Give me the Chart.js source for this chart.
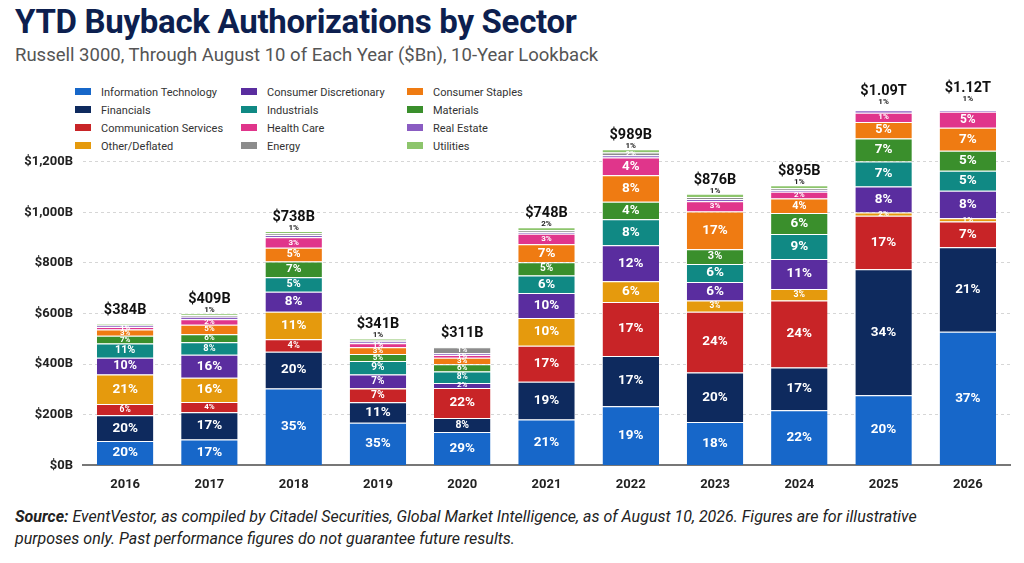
<!DOCTYPE html>
<html>
<head>
<meta charset="utf-8">
<script src="https://cdn.jsdelivr.net/npm/chart.js@4.4.0/dist/chart.umd.min.js"></script>
<style>
  body { margin: 0; width: 1024px; height: 563px; background: #fff; font-family: Roboto, "Noto Sans", sans-serif; position: relative; overflow: hidden; }
  h1 { position: absolute; left: 15px; top: 2px; margin: 0; font-size: 33px; font-weight: 700; color: #0d1f4f; letter-spacing: -0.3px; }
  .sub { position: absolute; left: 15px; top: 44px; font-size: 18.5px; color: #555; }
  .legend { position: absolute; left: 75px; top: 84px; display: grid; grid-template-columns: 166px 166px 166px; row-gap: 1px; }
  .legend div { font-size: 11px; color: #333; height: 17px; line-height: 17px; white-space: nowrap; }
  .legend span { display: inline-block; width: 16px; height: 7px; margin-right: 10px; vertical-align: 1px; }
  #wrap { position: absolute; left: 0; top: 60px; width: 1024px; height: 437px; }
  .src { position: absolute; left: 15px; top: 506px; font-size: 16px; font-style: italic; color: #222; line-height: 22px; width: 960px; }
</style>
</head>
<body>
<h1>YTD Buyback Authorizations by Sector</h1>
<div class="sub">Russell 3000, Through August 10 of Each Year ($Bn), 10-Year Lookback</div>
<div class="legend" id="legend"></div>
<div id="wrap"><canvas id="chart"></canvas></div>
<div class="src"><b>Source:</b> EventVestor, as compiled by Citadel Securities, Global Market Intelligence, as of August 10, 2026. Figures are for illustrative purposes only. Past performance figures do not guarantee future results.</div>
<script>
'use strict'

const years = ['2016', '2017', '2018', '2019', '2020', '2021', '2022', '2023', '2024', '2025', '2026'];
const totals = ['$384B', '$409B', '$738B', '$341B', '$311B', '$748B', '$989B', '$876B', '$895B', '$1.09T', '$1.12T'];

// segment heights ($B, as drawn)
const infoTech   = [96, 102, 304, 168, 132, 181, 234, 171, 218, 277, 528];
const financials = [102, 108, 145, 81, 55, 149, 198, 196, 169, 498, 334];
const commServ   = [45, 40, 49, 55, 119, 143, 213, 240, 264, 211, 101];
const other      = [116, 96, 109, 2, 0, 109, 82, 44, 46, 13, 13];
const consDisc   = [66, 91, 79, 53, 20, 99, 143, 73, 118, 103, 109];
const industrials= [57, 49, 57, 53, 45, 69, 102, 72, 99, 99, 79];
const materials  = [30, 32, 62, 28, 29, 53, 70, 58, 83, 90, 79];
const consStaples= [25, 38, 55, 27, 25, 71, 104, 149, 57, 66, 91];
const healthCare = [10, 21, 41, 16, 11, 41, 70, 40, 27, 36, 63];
const realEstate = [6, 10, 9, 6, 7, 6, 9, 9, 6, 10, 13];
const energy     = [3, 7, 7, 7, 24, 8, 11, 8, 8, 6, 5];
const utilities  = [3, 7, 9, 7, 2, 12, 13, 13, 12, 13, 21];

// percentage labels
const itPct   = ['20%', '17%', '35%', '35%', '29%', '21%', '19%', '18%', '22%', '20%', '37%'];
const finPct  = ['20%', '17%', '20%', '11%', '8%', '19%', '17%', '20%', '17%', '34%', '21%'];
const comPct  = ['6%', '4%', '4%', '7%', '22%', '17%', '17%', '24%', '24%', '17%', '7%'];
const othPct  = ['21%', '16%', '11%', '', '', '10%', '6%', '3%', '3%', '2%', '1%'];
const cdPct   = ['10%', '16%', '8%', '7%', '2%', '10%', '12%', '6%', '11%', '8%', '8%'];
const indPct  = ['11%', '8%', '5%', '9%', '8%', '6%', '8%', '6%', '9%', '7%', '5%'];
const matPct  = ['7%', '6%', '7%', '5%', '6%', '5%', '4%', '3%', '6%', '7%', '5%'];
const stapPct = ['3%', '5%', '5%', '3%', '3%', '7%', '8%', '17%', '4%', '5%', '7%'];
const hcPct   = ['1%', '2%', '3%', '1%', '1%', '3%', '4%', '3%', '2%', '1%', '5%'];
const enPct   = ['', '', '', '', '1%', '', '2%', '', '', '', ''];
const utPct   = ['', '1%', '1%', '1%', '', '2%', '1%', '1%', '1%', '1%', '1%'];

const series = [
    ['Information Technology', infoTech, '#1767c9', itPct],
    ['Financials', financials, '#0e2a5e', finPct],
    ['Communication Services', commServ, '#c82427', comPct],
    ['Other/Deflated', other, '#e59a0d', othPct],
    ['Consumer Discretionary', consDisc, '#5a2d9f', cdPct],
    ['Industrials', industrials, '#108984', indPct],
    ['Materials', materials, '#3a8f2c', matPct],
    ['Consumer Staples', consStaples, '#ef7b12', stapPct],
    ['Health Care', healthCare, '#e0358b', hcPct],
    ['Real Estate', realEstate, '#8a5cc2', null],
    ['Energy', energy, '#8c8c8c', enPct],
    ['Utilities', utilities, '#8dc56c', utPct]
];

// legend in 3 columns, row-major as in the reference
const legendOrder = ['Information Technology', 'Consumer Discretionary', 'Consumer Staples',
    'Financials', 'Industrials', 'Materials',
    'Communication Services', 'Health Care', 'Real Estate',
    'Other/Deflated', 'Energy', 'Utilities'];
let leg = document.getElementById('legend');
legendOrder.forEach(function (name) {
    let s = series.find(x => x[0] === name);
    let d = document.createElement('div');
    d.innerHTML = '<span style="background:' + s[2] + '"></span>' + name;
    leg.appendChild(d);
});

const segLabels = {
    id: 'segLabels',
    afterDatasetsDraw(chart) {
        let ctx = chart.ctx;
        ctx.save();
        ctx.textAlign = 'center';
        ctx.textBaseline = 'middle';
        chart.data.datasets.forEach(function (ds, i) {
            let meta = chart.getDatasetMeta(i);
            let pcts = series[i][3];
            if (!pcts) return;
            meta.data.forEach(function (bar, j) {
                let t = pcts[j];
                if (!t) return;
                let h = Math.abs(bar.base - bar.y);
                let mid = (bar.y + bar.base) / 2;
                let size = Math.max(8, Math.min(13.5, h * 0.75));
                ctx.font = 'bold ' + size + 'px Roboto';
                if (i === series.length - 1) {
                    ctx.fillStyle = '#222';
                    ctx.font = 'bold 8px Roboto';
                    ctx.fillText(t, bar.x, bar.y - 3);
                } else {
                    ctx.fillStyle = '#fff';
                    ctx.fillText(t, bar.x, mid);
                }
            });
        });
        // totals above bars
        let last = chart.getDatasetMeta(chart.data.datasets.length - 1);
        ctx.fillStyle = '#111';
        ctx.font = 'bold 14.5px Roboto';
        ctx.textBaseline = 'alphabetic';
        last.data.forEach(function (bar, j) {
            ctx.fillText(totals[j], bar.x, bar.y - 10);
        });
        ctx.restore();
    }
};

new Chart(document.getElementById('chart'), {
    type: 'bar',
    data: {
        labels: years,
        datasets: series.map(s => ({
            label: s[0],
            data: s[1],
            backgroundColor: s[2],
            borderColor: '#fff',
            borderWidth: { top: 1 },
            borderSkipped: false,
            barPercentage: 0.67,
            categoryPercentage: 1
        }))
    },
    options: {
        responsive: true,
        maintainAspectRatio: false,
        animation: false,
        layout: { padding: { top: 51, right: 14, left: 0, bottom: 0 } },
        plugins: { legend: { display: false }, tooltip: { enabled: false } },
        scales: {
            x: {
                stacked: true,
                grid: { display: false },
                border: { color: '#777', width: 2 },
                ticks: { color: '#222', font: { family: 'Roboto', size: 13, weight: 'bold' }, padding: 4 }
            },
            y: {
                stacked: true,
                min: 0,
                max: 1400,
                afterBuildTicks: function (axis) {
                    axis.ticks = axis.ticks.filter(t => t.value <= 1200);
                },
                afterFit: function (axis) { axis.width = 83; },
                border: { display: false, dash: [3, 3] },
                grid: { color: '#d6d6d6', drawTicks: false },
                ticks: {
                    stepSize: 200,
                    padding: 10,
                    color: '#222',
                    font: { family: 'Roboto', size: 13, weight: 'bold' },
                    callback: v => '$' + v.toLocaleString('en-US') + 'B'
                }
            }
        }
    },
    plugins: [segLabels]
});
</script>
</body>
</html>
